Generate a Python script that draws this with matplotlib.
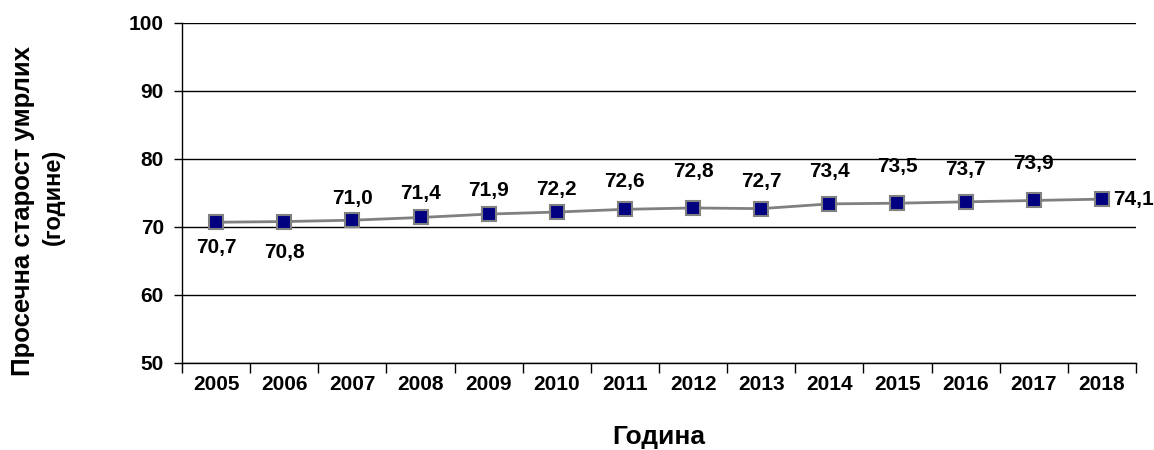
import matplotlib
matplotlib.use("Agg")
import matplotlib.pyplot as plt

years = ["2005", "2006", "2007", "2008", "2009", "2010", "2011",
         "2012", "2013", "2014", "2015", "2016", "2017", "2018"]
avg_age = [70.7, 70.8, 71.0, 71.4, 71.9, 72.2, 72.6,
           72.8, 72.7, 73.4, 73.5, 73.7, 73.9, 74.1]
y_ticks = [50, 60, 70, 80, 90, 100]

# label offsets in pixels (dx, dy) relative to marker
label_offsets_px = [(0, -25), (0, -31), (0, 22), (0, 24), (0, 24), (0, 23), (0, 28),
                    (0, 36), (0, 27), (0, 32), (0, 37), (0, 32), (0, 37), (11, 0)]

plt.rcParams['font.family'] = ['Liberation Sans', 'DejaVu Sans']
plt.rcParams['font.weight'] = 'bold'

fig = plt.figure(figsize=(11.54, 4.5), dpi=100)
ax = fig.add_axes([182/1154, 1 - 363/450, (1136 - 182)/1154, (363 - 23)/450])

x = list(range(len(years)))
ax.plot(x, avg_age, color='#808080', lw=2, marker='s', markersize=10,
        markerfacecolor='#000080', markeredgecolor='#808080', markeredgewidth=1.5,
        zorder=3)

for i, (xi, v) in enumerate(zip(x, avg_age)):
    dx, dy = label_offsets_px[i]
    ha = 'left' if dx > 0 else 'center'
    ax.annotate(f"{v:.1f}".replace('.', ','), (xi, v),
                xytext=(dx * 0.72, dy * 0.72), textcoords='offset points',
                ha=ha, va='center', fontsize=15, fontweight='bold', color='black',
                annotation_clip=False)

ax.set_xlim(-0.5, len(years) - 0.5)
ax.set_ylim(50, 100)
ax.set_yticks(y_ticks)
ax.set_yticklabels([str(t) for t in y_ticks], fontsize=15, fontweight='bold')
ax.tick_params(axis='y', length=6, width=1, color='black', pad=7)

ax.set_xticks([i - 0.5 for i in range(len(years) + 1)])
ax.set_xticklabels([])
ax.tick_params(axis='x', which='major', length=7, width=1, color='black')
ax.set_xticks(x, minor=True)
ax.set_xticklabels(years, minor=True, fontsize=15, fontweight='bold')
ax.tick_params(axis='x', which='minor', length=0, pad=9)

ax.yaxis.grid(True, color='black', lw=1)
ax.set_axisbelow(True)
for s in ['top', 'right']:
    ax.spines[s].set_visible(False)
for s in ['left', 'bottom']:
    ax.spines[s].set_color('black')
    ax.spines[s].set_linewidth(1)

fig.text((182 + 1136) / 2 / 1154, 1 - 437/450, "Година", ha='center', va='center',
         fontsize=19, fontweight='bold')
fig.text(23/1154, 1 - 211/450, "Просечна старост умрлих", rotation=90,
         ha='center', va='center', fontsize=18.5, fontweight='bold')
fig.text(53/1154, 1 - 197/450, "(године)", rotation=90,
         ha='center', va='center', fontsize=17, fontweight='bold')

fig.savefig("out.png", dpi=100)
